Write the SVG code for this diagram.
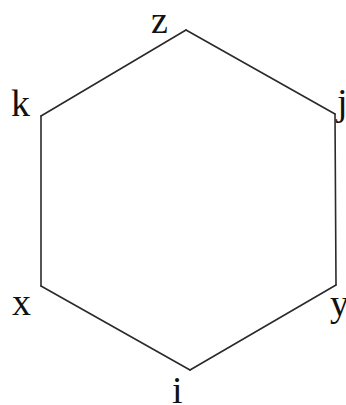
<svg xmlns="http://www.w3.org/2000/svg" width="346" height="405" viewBox="0 0 346 405">
<style>
.e{stroke:#2a2a2a;stroke-width:1.6;fill:none;stroke-linecap:round}
.l{font-family:"Liberation Serif","Times New Roman",serif;font-size:38px;fill:#111}
</style>
<rect width="346" height="405" fill="#fff"/>
<g id="connectors">
<line class="e" x1="186" y1="30" x2="335" y2="114"/>
<line class="e" x1="335" y1="114" x2="336" y2="285"/>
<line class="e" x1="336" y1="285" x2="190" y2="370"/>
<line class="e" x1="190" y1="370" x2="41" y2="286"/>
<line class="e" x1="41" y1="286" x2="41" y2="116"/>
<line class="e" x1="41" y1="116" x2="186" y2="30"/>
</g>
<g id="z"><text class="l" x="151" y="33">z</text></g>
<g id="j"><text class="l" x="337" y="115">j</text></g>
<g id="y"><text class="l" x="330" y="316">y</text></g>
<g id="i"><text class="l" x="172" y="403">i</text></g>
<g id="x"><text class="l" x="12" y="315">x</text></g>
<g id="k"><text class="l" x="11" y="116">k</text></g>
</svg>
